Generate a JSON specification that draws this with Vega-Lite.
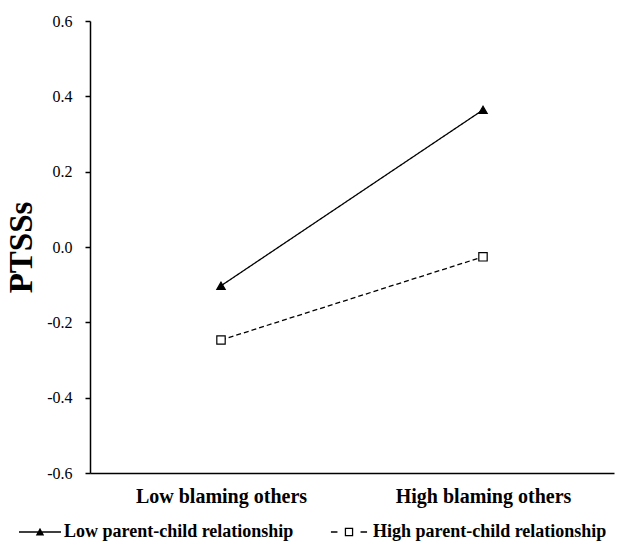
{
  "$schema": "https://vega.github.io/schema/vega-lite/v6.json",
  "width": 524,
  "height": 452,
  "autosize": {"type": "none"},
  "padding": {"left": 90, "top": 21, "right": 16, "bottom": 70},
  "background": "white",
  "config": {
    "view": {"stroke": null},
    "font": "Liberation Serif",
    "axis": {"grid": false, "domainColor": "black", "tickColor": "black", "labelColor": "black", "titleColor": "black", "domainWidth": 1.5, "tickWidth": 1.5},
    "legend": {"padding": 0}
  },
  "data": {
    "values": [
      {"blame": "Low blaming others", "group": "Low parent-child relationship", "marker": "triangle", "ptss": -0.103},
      {"blame": "High blaming others", "group": "Low parent-child relationship", "marker": "triangle", "ptss": 0.364},
      {"blame": "Low blaming others", "group": "High parent-child relationship", "marker": "square", "ptss": -0.247},
      {"blame": "High blaming others", "group": "High parent-child relationship", "marker": "square", "ptss": -0.026}
    ]
  },
  "encoding": {
    "x": {
      "field": "blame", "type": "nominal",
      "sort": ["Low blaming others", "High blaming others"],
      "scale": {"type": "point", "padding": 0.5},
      "axis": {"title": null, "ticks": false, "labelAngle": 0, "labelFontSize": 20, "labelFontWeight": "bold", "labelPadding": 13, "labelFont": "Liberation Serif"}
    },
    "y": {
      "field": "ptss", "type": "quantitative",
      "scale": {"domain": [-0.6, 0.6], "nice": false, "zero": false},
      "axis": {
        "values": [-0.6, -0.4, -0.2, 0, 0.2, 0.4, 0.6],
        "labelExpr": "replace(format(datum.value, '.1f'), '\u2212', '-')",
        "labelFont": "Liberation Serif",
        "labelFontSize": 16, "tickSize": 5, "labelPadding": 13,
        "title": "PTSSs", "titleFont": "Liberation Serif", "titleFontSize": 33, "titleFontWeight": "bold", "titlePadding": 8
      }
    }
  },
  "resolve": {"scale": {"shape": "independent", "fill": "independent", "size": "independent"}},
  "layer": [
    {
      "mark": {"type": "line", "color": "black", "strokeWidth": 1.3},
      "encoding": {
        "strokeDash": {
          "field": "group", "type": "nominal",
          "scale": {"domain": ["Low parent-child relationship", "High parent-child relationship"], "range": [[1, 0], [5, 3]]},
          "legend": null
        }
      }
    },
    {
      "mark": {"type": "point", "filled": true, "stroke": "black", "strokeWidth": 1.2, "size": 70, "opacity": 1},
      "encoding": {
        "shape": {"field": "marker", "type": "nominal", "scale": {"domain": ["triangle", "square"], "range": ["triangle-up", "square"]}, "legend": null},
        "fill": {"field": "marker", "type": "nominal", "scale": {"domain": ["triangle", "square"], "range": ["black", "white"]}, "legend": null}
      }
    },
    {
      "mark": {"type": "point", "filled": true, "opacity": 0},
      "encoding": {
        "shape": {
          "field": "group", "type": "nominal",
          "scale": {"domain": ["Low parent-child relationship", "High parent-child relationship"], "range": ["M-1,-0.03H1V0.03H-1ZM-0.2,0.17L0,-0.2L0.2,0.17Z", "M-0.86,-0.03H-0.55V0.03H-0.86ZM0.55,-0.03H0.86V0.03H0.55ZM-0.2,-0.2H0.2V0.2H-0.2ZM-0.14,-0.14V0.14H0.14V-0.14Z"]},
          "legend": {
            "orient": "none", "legendX": -72, "legendY": 489, "direction": "horizontal",
            "title": null, "labelFontSize": 18, "labelFontWeight": "bold", "labelColor": "black", "labelLimit": 400,
            "labelFont": "Liberation Serif",
            "symbolSize": 1764, "labelOffset": 2, "columnPadding": 33,
            "symbolOpacity": 1
          }
        },
        "fill": {
          "field": "group", "type": "nominal",
          "scale": {"domain": ["Low parent-child relationship", "High parent-child relationship"], "range": ["black", "black"]},
          "legend": {
            "orient": "none", "legendX": -72, "legendY": 489, "direction": "horizontal",
            "title": null, "labelFontSize": 18, "labelFontWeight": "bold", "labelColor": "black", "labelLimit": 400,
            "labelFont": "Liberation Serif",
            "symbolSize": 1764, "labelOffset": 2, "columnPadding": 33,
            "symbolOpacity": 1
          }
        }
      }
    }
  ]
}
